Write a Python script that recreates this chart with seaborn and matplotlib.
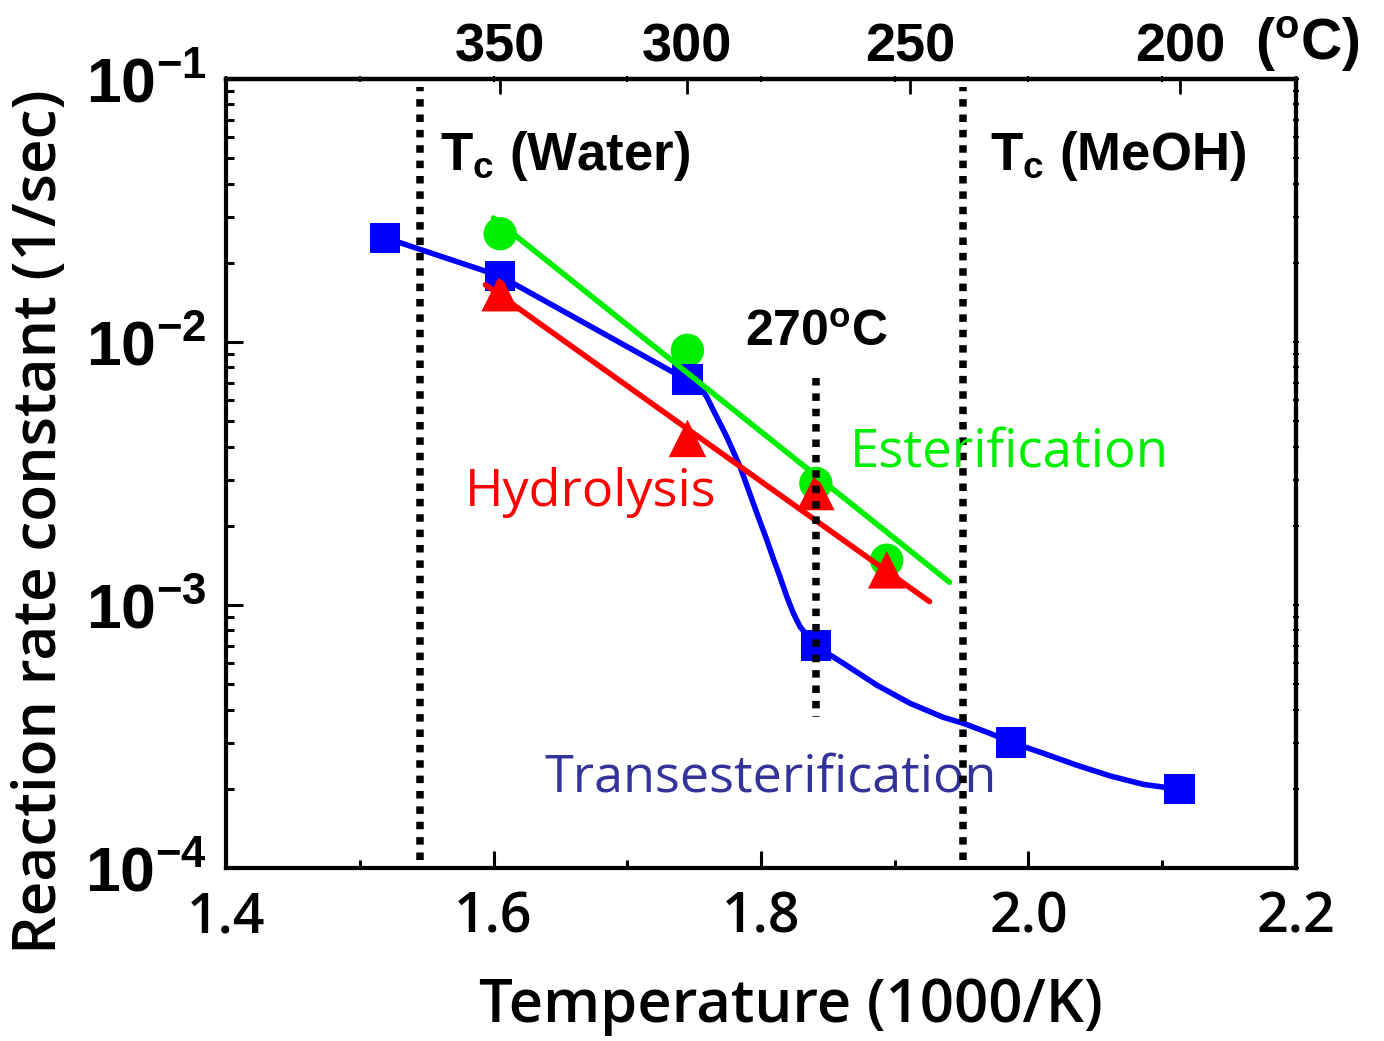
import numpy as np
import pandas as pd
import matplotlib
matplotlib.use("Agg")
import matplotlib.pyplot as plt
import seaborn as sns
from matplotlib.ticker import MultipleLocator, LogLocator, NullFormatter, NullLocator, FormatStrFormatter

# rate constants (x = 1000/K, k in 1/sec)
trans_x = [1.519, 1.605, 1.745, 1.841, 1.987, 2.113]
trans_k = [0.0249, 0.0178, 0.0072, 0.00070, 0.00030, 0.00020]
ester_x = [1.605, 1.745, 1.841, 1.894]
ester_k = [0.0258, 0.0093, 0.0029, 0.00148]
hydro_x = [1.605, 1.745, 1.841, 1.894]
hydro_k = [0.0154, 0.0043, 0.0027, 0.00136]

# traced path of the smooth transesterification curve
curve_x = [1.5196, 1.6049, 1.7447, 1.7544, 1.7594, 1.7643, 1.7693, 1.7744,
           1.7793, 1.7843, 1.7893, 1.7942, 1.7993, 1.8043, 1.8092, 1.8142,
           1.8192, 1.8242, 1.8292, 1.8342, 1.8411, 1.8616, 1.8865, 1.9114,
           1.9363, 1.9513, 1.9712, 1.9875, 2.0111, 2.0361, 2.0609, 2.0858, 2.1133]
curve_k = [0.02485, 0.01782, 0.00717, 0.00674, 0.00619, 0.00551, 0.00491, 0.00436,
           0.00383, 0.00336, 0.00286, 0.00244, 0.00207, 0.00177, 0.00150, 0.00128,
           0.00108, 0.000930, 0.000827, 0.000769, 0.000698, 0.000600, 0.000496, 0.000423,
           0.000374, 0.000355, 0.000325, 0.000300, 0.000273, 0.000246, 0.000224, 0.000208, 0.000199]

# straight (Arrhenius) fits, end points
ester_fit_x = [1.600, 1.941]
ester_fit_k = [0.0296, 0.00122]
hydro_fit_x = [1.594, 1.926]
hydro_fit_k = [0.0165, 0.00103]

# reference lines
tc_water = 1.545
tc_meoh = 1.951
t270_x = [1.841, 1.841]
t270_k = [0.0073, 0.000375]

top_ticks_c = [350, 300, 250, 200]
top_labels = ["350", "300", "250", "200"]

sns.set_theme(style="ticks")
plt.rcParams["font.family"] = ["Liberation Sans", "DejaVu Sans"]
plt.rcParams["font.weight"] = "bold"
plt.rcParams["mathtext.fontset"] = "custom"
plt.rcParams["mathtext.rm"] = "Liberation Sans:bold"
plt.rcParams["mathtext.it"] = "Liberation Sans:italic:bold"
plt.rcParams["mathtext.bf"] = "Liberation Sans:bold"
for key in ["text.color", "axes.labelcolor", "xtick.color", "ytick.color", "axes.edgecolor"]:
    plt.rcParams[key] = "black"

blue = "#0000ff"
green = "#00ee00"
red = "#ff0000"
humanist = ["Open Sans", "DejaVu Sans"]

fig = plt.figure(figsize=(13.84, 10.41), dpi=100)
ax = fig.add_axes([226 / 1384, 1 - 868 / 1041, 1070 / 1384, 789 / 1041])
ax.set_yscale("log")

# data
sns.scatterplot(x=ester_x, y=ester_k, marker="o", s=24 ** 2, color=green, edgecolor="none", ax=ax, zorder=3)
sns.scatterplot(x=trans_x, y=trans_k, marker="s", s=22 ** 2, color=blue, edgecolor="none", ax=ax, zorder=3)
sns.scatterplot(x=hydro_x, y=hydro_k, marker="^", s=27 ** 2, color=red, edgecolor="none", ax=ax, zorder=4)
sns.lineplot(x=curve_x, y=curve_k, color=blue, lw=4, sort=False, ax=ax, zorder=5)
sns.lineplot(x=hydro_fit_x, y=hydro_fit_k, color=red, lw=4, sort=False, ax=ax, zorder=5)
sns.lineplot(x=ester_fit_x, y=ester_fit_k, color=green, lw=4, sort=False, ax=ax, zorder=6)

dots = dict(color="black", lw=5.4, dashes=(1.0, 1.05), zorder=7)
ax.axvline(tc_water, ymin=0.01, ymax=0.99, **dots)
ax.axvline(tc_meoh, ymin=0.01, ymax=0.99, **dots)
ax.plot(t270_x, t270_k, **dots)

ax.set_xlim(1.4, 2.2)
ax.set_ylim(1e-4, 1e-1)
ax.xaxis.set_major_locator(MultipleLocator(0.2))
ax.xaxis.set_minor_locator(MultipleLocator(0.1))
ax.xaxis.set_major_formatter(FormatStrFormatter("%.1f"))
ax.yaxis.set_major_locator(LogLocator(base=10, numticks=10))
ax.yaxis.set_minor_locator(LogLocator(base=10, subs=(2, 3, 4, 5, 6, 7, 8, 9), numticks=10))
ax.yaxis.set_minor_formatter(NullFormatter())
ax.tick_params(which="major", direction="in", length=12, width=2.2)
ax.tick_params(axis="x", which="major", pad=16, labelsize=40)
ax.tick_params(axis="y", which="major", pad=14, labelsize=45)
ax.tick_params(which="minor", direction="in", length=6, width=2.2)
for lbl in ax.get_xticklabels():
    lbl.set_family(humanist)
    lbl.set_weight("semibold")
for s in ax.spines.values():
    s.set_linewidth(3)


def k2c(x):
    x = np.asarray(x, dtype=float)
    with np.errstate(divide="ignore", invalid="ignore"):
        return 1000.0 / x - 273.15


def c2k(t):
    t = np.asarray(t, dtype=float)
    with np.errstate(divide="ignore", invalid="ignore"):
        return 1000.0 / (t + 273.15)


# top axis in deg C
secax = ax.secondary_xaxis("top", functions=(k2c, c2k))
secax.set_xticks(top_ticks_c)
secax.set_xticklabels(top_labels)
secax.xaxis.set_minor_locator(NullLocator())
secax.tick_params(direction="in", length=11, width=2, pad=5, labelsize=39)
secax.spines["top"].set_linewidth(3)

# tiny mirror ticks on top and right spines
topmirror = ax.secondary_xaxis("top", functions=(lambda v: v, lambda v: v))
topmirror.xaxis.set_major_locator(MultipleLocator(0.1))
topmirror.xaxis.set_major_formatter(NullFormatter())
topmirror.tick_params(direction="inout", length=4, width=1.5)
topmirror.spines["top"].set_linewidth(3)

rightmirror = ax.secondary_yaxis("right", functions=(lambda v: v, lambda v: v))
rightmirror.yaxis.set_major_locator(LogLocator(base=10, numticks=10))
rightmirror.yaxis.set_minor_locator(LogLocator(base=10, subs=(2, 3, 4, 5, 6, 7, 8, 9), numticks=10))
rightmirror.yaxis.set_major_formatter(NullFormatter())
rightmirror.yaxis.set_minor_formatter(NullFormatter())
rightmirror.tick_params(which="both", direction="inout", length=4, width=1.5)
rightmirror.spines["right"].set_linewidth(3)

ax.text(2.169, 1.024, r"($^\mathregular{o}$C)", transform=ax.get_xaxis_transform(),
        fontsize=41, ha="left", va="baseline")

# annotations
ax.text(1.560, 0.0451, r"T$_\mathregular{c}$ (Water)", fontsize=38, ha="left", va="baseline")
ax.text(1.971, 0.0451, r"T$_\mathregular{c}$ (MeOH)", fontsize=38, ha="left", va="baseline")
ax.text(1.788, 0.00966, r"270$^\mathregular{o}$C", fontsize=36, ha="left", va="baseline")
ax.text(1.8666, 0.00332, "Esterification", fontsize=38, color=green, family=humanist,
        weight="normal", ha="left", va="baseline", zorder=8)
ax.text(1.5787, 0.00238, "Hydrolysis", fontsize=37.5, color=red, family=humanist,
        weight="normal", ha="left", va="baseline", zorder=8)
ax.text(1.6385, 0.000196, "Transesterification", fontsize=37.5, color="#333399", family=humanist,
        weight="normal", ha="left", va="baseline", zorder=6)

ax.set_xlabel("Temperature (1000/K)", fontsize=43, family=humanist, weight="semibold")
ax.set_ylabel("Reaction rate constant (1/sec)", fontsize=43.5, family=humanist, weight="semibold")
ax.xaxis.set_label_coords(0.528, -0.138)
ax.yaxis.set_label_coords(-0.146, 0.4385)

fig.savefig("out.png", dpi=100)
